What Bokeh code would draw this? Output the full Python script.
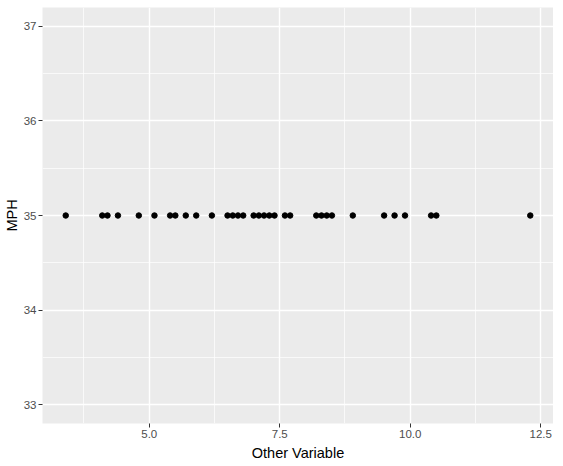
from bokeh.plotting import figure
from bokeh.models import Range1d, FixedTicker, PrintfTickFormatter
from bokeh.embed import file_html
from bokeh.resources import INLINE

other_variable = [3.4, 4.1, 4.2, 4.4, 4.8, 5.1, 5.4, 5.5, 5.7, 5.9, 6.2, 6.5, 6.6, 6.7, 6.8,
                  7.0, 7.1, 7.2, 7.3, 7.4, 7.6, 7.7, 8.2, 8.3, 8.4, 8.5, 8.9, 9.5, 9.7, 9.9,
                  10.4, 10.5, 12.3]
mph = [35] * len(other_variable)

x_ticks = [5.0, 7.5, 10.0, 12.5]
x_minor = [3.75, 6.25, 8.75, 11.25]
y_ticks = [33, 34, 35, 36, 37]
y_minor = [33.5, 34.5, 35.5, 36.5]

FONT = "Liberation Sans"

p = figure(frame_width=511, frame_height=416, output_backend="svg", toolbar_location=None,
           x_range=Range1d(2.955, 12.745), y_range=Range1d(32.8, 37.2),
           min_border_left=37, min_border_right=0, min_border_top=7, min_border_bottom=34,
           background_fill_color="#EBEBEB", border_fill_color="white")
p.outline_line_color = None

p.scatter(other_variable, mph, size=5.5, color="black")

p.xaxis.ticker = FixedTicker(ticks=x_ticks, minor_ticks=x_minor)
p.yaxis.ticker = FixedTicker(ticks=y_ticks, minor_ticks=y_minor)
p.xaxis.formatter = PrintfTickFormatter(format="%.1f")
p.yaxis.formatter = PrintfTickFormatter(format="%d")

for g in (p.xgrid, p.ygrid):
    g.grid_line_color = "white"
    g.grid_line_width = 1.4
    g.minor_grid_line_color = "white"
    g.minor_grid_line_width = 0.7

for ax in (p.xaxis, p.yaxis):
    ax.axis_line_color = None
    ax.major_tick_line_color = "#333333"
    ax.major_tick_line_width = 1
    ax.major_tick_in = 0
    ax.major_tick_out = 4
    ax.minor_tick_line_color = None
    ax.major_label_text_font = FONT
    ax.major_label_text_font_size = "11.5px"
    ax.major_label_text_color = "#4D4D4D"
    ax.axis_label_text_font = FONT
    ax.axis_label_text_font_size = "14.5px"
    ax.axis_label_text_font_style = "normal"
    ax.axis_label_text_color = "black"
    ax.major_label_standoff = 2

p.xaxis.axis_label_standoff = 4
p.yaxis.axis_label_standoff = 1

p.xaxis.axis_label = "Other Variable"
p.yaxis.axis_label = "MPH"

open("out.html", "w").write(file_html(p, INLINE))
